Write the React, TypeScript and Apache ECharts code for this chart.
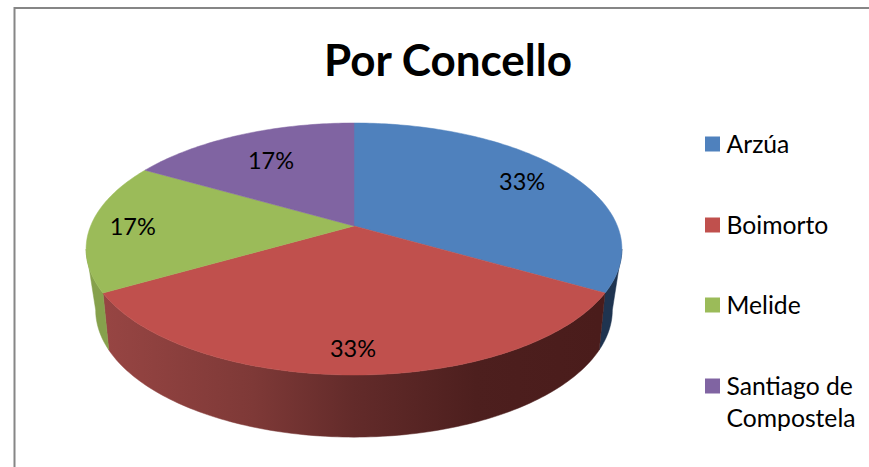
import React, { useEffect, useRef } from "react";
import * as echarts from "echarts";

const categories = ["Arzúa", "Boimorto", "Melide", "Santiago de\nCompostela"];
const values = [2, 2, 1, 1];
const topColors = ["#4F81BD", "#C0504D", "#9BBB59", "#8064A2"];
const titleText = "Por Concello";
const labelRadius = [0.79, 0.846, 0.84, 0.7];
const legendY = [144, 225, 305, 386];

const FONT = "Lato, 'Open Sans', sans-serif";
const total = values.reduce((a, b) => a + b, 0);
const startAngle = (i: number) =>
  (values.slice(0, i).reduce((a, b) => a + b, 0) / total) * 360;

// Perspective projection of a tilted disc, angle clockwise from the top
const topDisc = { cx: 354, cy: 226, a: 263.4, b: 121.8, k: 0.1825 };
const bottomDisc = { cx: 354, cy: 282, a: 252, b: 121, k: 0.22 };
const project = (d: typeof topDisc, deg: number, r = 1): [number, number] => {
  const t = (deg * Math.PI) / 180;
  const ux = r * Math.sin(t);
  const uy = -r * Math.cos(t);
  const w = 1 - d.k * uy;
  return [d.cx + (d.a * ux) / w, d.cy + (d.b * uy) / w];
};
const arc = (d: typeof topDisc, from: number, to: number) => {
  const pts: [number, number][] = [];
  for (let deg = from; deg < to; deg += 1) pts.push(project(d, deg));
  pts.push(project(d, to));
  return pts;
};
// The part of a disc's rim that faces the viewer runs between its two tangent angles
const tangent = (d: typeof topDisc) => (Math.acos(-d.k) * 180) / Math.PI;
const frontArc = (d: typeof topDisc, from: number, to: number) => {
  const t = tangent(d);
  return arc(d, Math.max(from, t), Math.min(to, 360 - t));
};

const wallFills: any[] = [
  "#1F3450",
  {
    type: "linear",
    global: true,
    x: 105,
    y: 0,
    x2: 600,
    y2: 0,
    colorStops: [
      { offset: 0, color: "#974543" },
      { offset: 0.3, color: "#7E3937" },
      { offset: 0.5, color: "#632B2A" },
      { offset: 0.75, color: "#4D1F1E" },
      { offset: 1, color: "#4A1C1B" },
    ],
  },
  "#86A14C",
  null,
];

export default function App() {
  const ref = useRef<HTMLDivElement>(null);
  useEffect(() => {
    const chart = echarts.init(ref.current!, undefined, { renderer: "svg" });
    const sliceData = values.map((v) => [v]);
    chart.setOption({
      animation: false,
      backgroundColor: "#ffffff",
      title: {
        text: titleText,
        left: 443,
        top: 32,
        textAlign: "center",
        textStyle: { fontFamily: FONT, fontSize: 44, fontWeight: "bold", color: "#000000" },
      },
      series: [
        {
          type: "custom",
          name: "walls",
          coordinateSystem: "none",
          silent: true,
          z: 1,
          data: sliceData,
          renderItem: (params: any, api: any) => {
            const i = params.dataIndex;
            const fill = wallFills[i];
            if (!fill) return null;
            const from = startAngle(i);
            const to = from + (api.value(0) / total) * 360;
            const pts = [...frontArc(topDisc, from, to), ...frontArc(bottomDisc, from, to).reverse()];
            return {
              type: "polygon",
              shape: { points: pts },
              style: { fill, stroke: fill, lineWidth: 0.5 },
            };
          },
        },
        {
          type: "custom",
          name: "Por Concello",
          coordinateSystem: "none",
          silent: true,
          z: 2,
          data: sliceData,
          renderItem: (params: any, api: any) => {
            const i = params.dataIndex;
            const from = startAngle(i);
            const sweep = (api.value(0) / total) * 360;
            const pts = [[topDisc.cx, topDisc.cy], ...arc(topDisc, from, from + sweep)];
            return {
              type: "polygon",
              shape: { points: pts },
              style: { fill: topColors[i], stroke: topColors[i], lineWidth: 0.5 },
            };
          },
        },
        {
          type: "custom",
          name: "labels",
          coordinateSystem: "none",
          silent: true,
          z: 3,
          data: sliceData,
          renderItem: (params: any, api: any) => {
            const i = params.dataIndex;
            const from = startAngle(i);
            const sweep = (api.value(0) / total) * 360;
            const [lx, ly] = project(topDisc, from + sweep / 2, labelRadius[i]);
            return {
              type: "text",
              x: lx - (i === 1 ? 1 : 0),
              y: ly,
              style: {
                text: `${Math.round((api.value(0) / total) * 100)}%`,
                fill: "#000000",
                font: `23.5px ${FONT}`,
                align: "center",
                verticalAlign: "middle",
              },
            };
          },
        },
      ],
      graphic: [
        {
          type: "rect",
          silent: true,
          z: 0,
          shape: { x: 14.5, y: 8, width: 900, height: 500 },
          style: { fill: "none", stroke: "#868686", lineWidth: 2 },
        },
        ...categories.flatMap((name, i) => [
          {
            type: "rect",
            silent: true,
            shape: { x: 705, y: legendY[i] - 7.5, width: 15, height: 15 },
            style: { fill: topColors[i] },
          },
          {
            type: "text",
            silent: true,
            x: 726.5,
            y: legendY[i] - 17,
            style: {
              text: name,
              fill: "#000000",
              font: `24.7px ${FONT}`,
              lineHeight: 32,
              align: "left",
              verticalAlign: "top",
            },
          },
        ]),
      ],
    });
    return () => chart.dispose();
  }, []);
  return (
    <div
      ref={ref}
      style={{ position: "fixed", left: 0, top: 0, width: 869, height: 467 }}
    />
  );
}
